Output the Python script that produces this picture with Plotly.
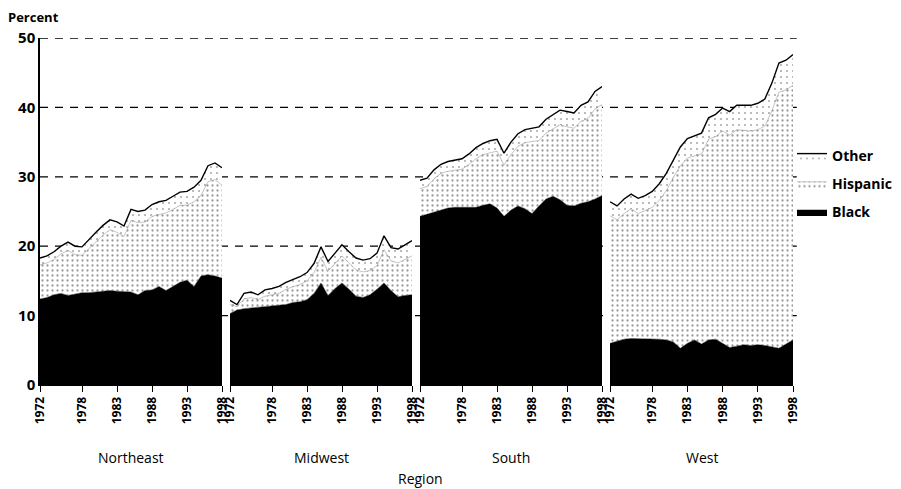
import plotly.graph_objects as go

years = list(range(1972, 1999))
regions = ["Northeast", "Midwest", "South", "West"]
tick_years = [1972, 1978, 1983, 1988, 1993, 1998]
tick_labels = ["1972", "1978", "1983", "1988", "1993", "1998"]
y_ticks = [0, 10, 20, 30, 40, 50]

black_ne = [12.4, 12.6, 13.0, 13.2, 12.9, 13.1, 13.3, 13.3, 13.4, 13.4, 13.6, 13.5, 13.4, 13.4,
            13.0, 13.6, 13.7, 14.2, 13.6, 14.2, 14.8, 15.1, 14.2, 15.7, 15.9, 15.7, 15.4]
hisp_ne = [4.9, 5.0, 5.1, 5.7, 6.5, 5.7, 5.4, 6.4, 7.3, 8.2, 8.8, 8.5, 8.0, 10.3,
           10.4, 9.9, 10.6, 10.4, 11.2, 11.1, 11.1, 10.8, 12.2, 11.6, 13.4, 13.9, 13.4]
other_ne = [1.0, 1.0, 1.1, 1.1, 1.2, 1.2, 1.2, 1.3, 1.3, 1.4, 1.4, 1.5, 1.5, 1.6,
            1.6, 1.7, 1.7, 1.8, 1.8, 1.9, 1.9, 2.0, 2.1, 2.2, 2.3, 2.4, 2.5]

black_mw = [10.3, 10.8, 11.0, 11.1, 11.2, 11.2, 11.4, 11.5, 11.6, 11.9, 12.0, 12.3, 13.2, 14.7,
            12.9, 13.9, 14.7, 13.8, 12.8, 12.6, 13.0, 13.8, 14.7, 13.6, 12.7, 12.9, 13.0]
hisp_mw = [1.3, 0.5, 1.4, 1.5, 1.1, 1.6, 1.6, 1.7, 2.2, 2.2, 2.5, 2.7, 3.0, 3.7,
           3.5, 3.6, 3.9, 3.8, 3.8, 3.7, 3.5, 3.4, 4.8, 4.3, 4.9, 5.2, 5.6]
other_mw = [0.6, 0.3, 0.8, 0.8, 0.7, 0.9, 0.9, 1.0, 1.0, 1.1, 1.1, 1.2, 1.3, 1.5,
            1.4, 1.5, 1.6, 1.6, 1.7, 1.7, 1.7, 1.8, 2.0, 1.9, 2.0, 2.1, 2.2]

black_s = [24.3, 24.6, 25.0, 25.3, 25.5, 25.6, 25.6, 25.7, 25.6, 25.9, 26.1, 25.5, 24.3, 25.2,
           25.8, 25.4, 24.7, 25.8, 26.8, 27.2, 26.7, 25.9, 25.8, 26.2, 26.4, 26.8, 27.3]
hisp_s = [4.0, 4.0, 4.7, 5.2, 5.3, 5.4, 5.5, 6.1, 7.0, 7.3, 7.4, 8.2, 7.4, 8.0,
          8.6, 9.5, 10.4, 9.4, 9.5, 9.7, 10.8, 11.3, 11.2, 11.8, 12.0, 13.0, 13.1]
other_s = [1.2, 1.2, 1.3, 1.3, 1.4, 1.4, 1.5, 1.5, 1.6, 1.6, 1.7, 1.7, 1.7, 1.8,
           1.8, 1.9, 1.9, 2.0, 2.0, 2.1, 2.1, 2.2, 2.2, 2.3, 2.4, 2.5, 2.6]

black_w = [6.0, 6.3, 6.6, 6.7, 6.7, 6.7, 6.6, 6.6, 6.5, 6.2, 5.3, 6.0, 6.5, 5.9,
           6.5, 6.6, 6.0, 5.4, 5.6, 5.8, 5.7, 5.8, 5.7, 5.5, 5.3, 5.9, 6.5]
hisp_w = [18.4, 17.5, 18.1, 18.7, 18.0, 18.4, 19.0, 20.0, 21.5, 23.7, 26.3, 26.7, 26.5, 27.4,
          28.9, 29.2, 30.6, 30.6, 31.2, 30.9, 30.9, 31.0, 31.6, 34.0, 36.9, 36.6, 36.7]
other_w = [2.0, 2.0, 2.1, 2.1, 2.2, 2.2, 2.3, 2.4, 2.5, 2.6, 2.7, 2.8, 2.9, 3.0,
           3.1, 3.2, 3.3, 3.4, 3.5, 3.6, 3.7, 3.8, 3.9, 4.0, 4.2, 4.3, 4.4]

black_all = [black_ne, black_mw, black_s, black_w]
hisp_all = [hisp_ne, hisp_mw, hisp_s, hisp_w]
other_all = [other_ne, other_mw, other_s, other_w]

FONT = "Open Sans"
fig = go.Figure()

# plot area pixels: x 40..793, y 38..385
L, R, T, B = 40, 108, 38, 104
W, H = 901, 489
pw = W - L - R
ph = H - T - B
panels_px = [(40, 222), (230, 412), (420, 602), (610, 793)]
domains = [[(a - L) / pw, (b - L) / pw] for a, b in panels_px]

for i, reg in enumerate(regions):
    xa = "x" if i == 0 else f"x{i+1}"
    ya = "y" if i == 0 else f"y{i+1}"
    sg = f"sg{i}"
    show = (i == 0)
    fig.add_trace(go.Scatter(
        x=years, y=black_all[i], xaxis=xa, yaxis=ya, stackgroup=sg, name="Black",
        mode="lines", line=dict(color="black", width=0.5), fillcolor="black",
        legendgroup="Black", legendrank=3, showlegend=show, hoverinfo="x+y"))
    fig.add_trace(go.Scatter(
        x=years, y=hisp_all[i], xaxis=xa, yaxis=ya, stackgroup=sg, name="Hispanic",
        mode="lines", line=dict(color="rgba(60,60,60,0.5)", width=0.6),
        fillpattern=dict(shape=".", fgcolor="#333333", bgcolor="white", size=5, solidity=0.16),
        legendgroup="Hispanic", legendrank=2, showlegend=show, hoverinfo="x+y"))
    fig.add_trace(go.Scatter(
        x=years, y=other_all[i], xaxis=xa, yaxis=ya, stackgroup=sg, name="Other",
        mode="lines", line=dict(color="black", width=1.4),
        fillpattern=dict(shape=".", fgcolor="#555555", bgcolor="white", size=6, solidity=0.1),
        legendgroup="Other", legendrank=1, showlegend=show, hoverinfo="x+y"))

layout = dict(
    width=W, height=H,
    margin=dict(l=L, r=R, t=T, b=B, autoexpand=False),
    paper_bgcolor="white", plot_bgcolor="white",
    font=dict(family=FONT, size=13, color="black"),
    showlegend=True,
    legend=dict(x=(792 - L) / pw, y=(385 - 140) / ph, xanchor="left", yanchor="top",
                traceorder="grouped", tracegroupgap=7,
                font=dict(family=FONT, size=14, color="black", weight="bold"),
                bgcolor="rgba(0,0,0,0)", itemwidth=30),
)

for i in range(4):
    xk = "xaxis" if i == 0 else f"xaxis{i+1}"
    yk = "yaxis" if i == 0 else f"yaxis{i+1}"
    ax_anchor = "y" if i == 0 else f"y{i+1}"
    layout[xk] = dict(
        domain=domains[i], anchor=ax_anchor, range=[1972, 1998],
        tickmode="array", tickvals=tick_years, ticktext=tick_labels, tickangle=-90,
        ticks="outside", ticklen=6, tickwidth=1.2, tickcolor="black",
        showline=True, linecolor="black", linewidth=1.2, showgrid=False, zeroline=False,
        tickfont=dict(family=FONT, size=12, color="black", weight="bold"),
        fixedrange=True, automargin=False,
    )
    layout[yk] = dict(
        domain=[0, 1], anchor="x" if i == 0 else f"x{i+1}", range=[0, 50],
        tickmode="array", tickvals=y_ticks, ticktext=[str(v) for v in y_ticks],
        showticklabels=(i == 0), showline=(i == 0), linecolor="black", linewidth=1.5,
        ticks="", showgrid=False, zeroline=False,
        tickfont=dict(family=FONT, size=15, color="black", weight="bold"),
        fixedrange=True, automargin=False,
    )
    if i > 0:
        layout[yk]["matches"] = "y"

fig.update_layout(**layout)

# dashed gridlines spanning the full width (drawn below data)
for v in y_ticks[1:]:
    fig.add_shape(type="line", xref="paper", yref="y", x0=0, x1=1.005, y0=v, y1=v,
                  line=dict(color="black", width=1.3, dash="8px,7px"), layer="below")

# region labels
for i, reg in enumerate(regions):
    cx = (domains[i][0] + domains[i][1]) / 2
    fig.add_annotation(text=reg, xref="paper", yref="paper", x=cx, y=(385 - 457) / ph,
                       showarrow=False, xanchor="center", yanchor="middle",
                       font=dict(family=FONT, size=14, color="black"))

fig.add_annotation(text="Region", xref="paper", yref="paper", x=(420 - L) / pw, y=(385 - 478) / ph,
                   showarrow=False, xanchor="center", yanchor="middle",
                   font=dict(family=FONT, size=14, color="black"))
fig.add_annotation(text="Percent", xref="paper", yref="paper", x=(6 - L) / pw, y=(385 - 17) / ph,
                   showarrow=False, xanchor="left", yanchor="middle",
                   font=dict(family=FONT, size=13, color="black", weight="bold"))

fig.write_html("out.html", config={"displayModeBar": False},
               post_script="document.body.style.margin='0';document.body.style.padding='0';")
